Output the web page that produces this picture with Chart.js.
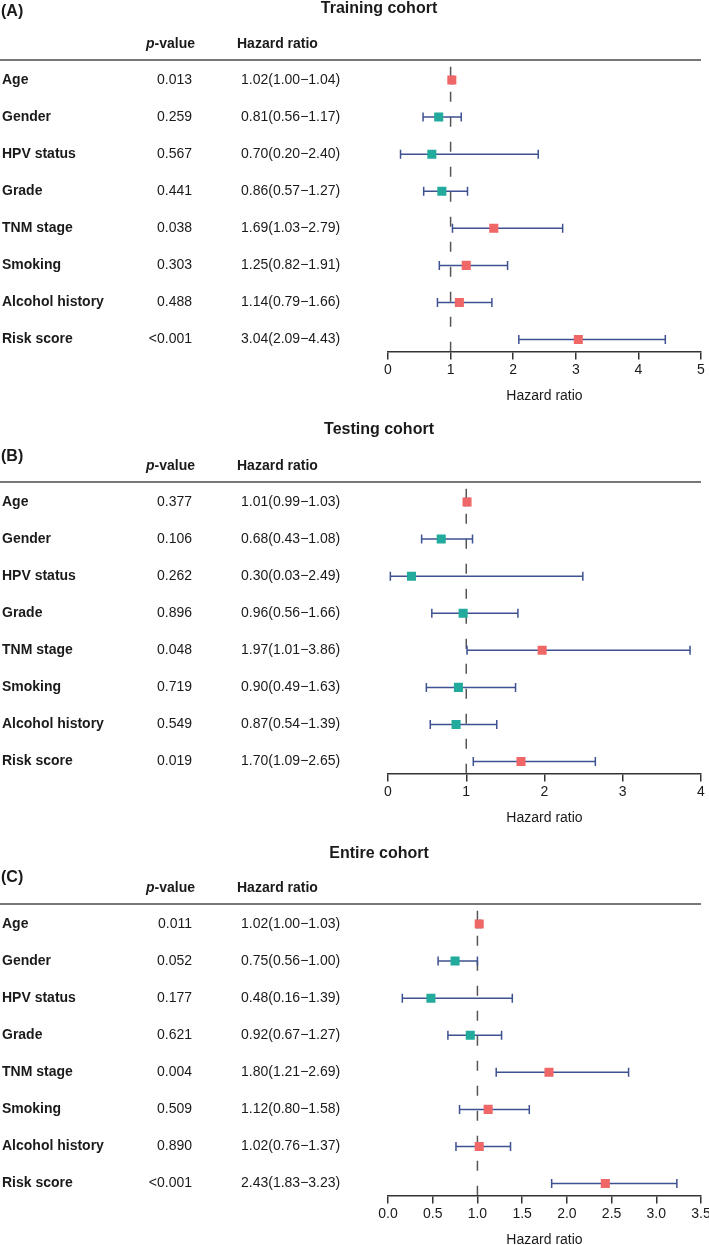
<!DOCTYPE html>
<html><head><meta charset="utf-8">
<script src="https://cdn.jsdelivr.net/npm/chart.js@4.4.1/dist/chart.umd.min.js"></script>
<style>
html,body{margin:0;padding:0;background:#fff;}
body{width:709px;height:1245px;overflow:hidden;position:relative;}
.panel{position:absolute;left:0;width:709px;height:422px;}
canvas{display:block;}
</style></head><body>
<div class="panel" style="top:0"><canvas id="cA" width="709" height="422"></canvas></div>
<div class="panel" style="top:422px"><canvas id="cB" width="709" height="422"></canvas></div>
<div class="panel" style="top:844px"><canvas id="cC" width="709" height="422"></canvas></div>
<script>
// ---------- data ----------
const categories = ['Age','Gender','HPV status','Grade','TNM stage','Smoking','Alcohol history','Risk score'];

const trainP  = ['0.013','0.259','0.567','0.441','0.038','0.303','0.488','<0.001'];
const trainHR = [1.02, 0.81, 0.70, 0.86, 1.69, 1.25, 1.14, 3.04];
const trainLo = [1.00, 0.56, 0.20, 0.57, 1.03, 0.82, 0.79, 2.09];
const trainHi = [1.04, 1.17, 2.40, 1.27, 2.79, 1.91, 1.66, 4.43];
const trainTicks = [0, 1, 2, 3, 4, 5];
const trainTickLabels = ['0','1','2','3','4','5'];

const testP  = ['0.377','0.106','0.262','0.896','0.048','0.719','0.549','0.019'];
const testHR = [1.01, 0.68, 0.30, 0.96, 1.97, 0.90, 0.87, 1.70];
const testLo = [0.99, 0.43, 0.03, 0.56, 1.01, 0.49, 0.54, 1.09];
const testHi = [1.03, 1.08, 2.49, 1.66, 3.86, 1.63, 1.39, 2.65];
const testTicks = [0, 1, 2, 3, 4];
const testTickLabels = ['0','1','2','3','4'];

const entireP  = ['0.011','0.052','0.177','0.621','0.004','0.509','0.890','<0.001'];
const entireHR = [1.02, 0.75, 0.48, 0.92, 1.80, 1.12, 1.02, 2.43];
const entireLo = [1.00, 0.56, 0.16, 0.67, 1.21, 0.80, 0.76, 1.83];
const entireHi = [1.03, 1.00, 1.39, 1.27, 2.69, 1.58, 1.37, 3.23];
const entireTicks = [0, 0.5, 1, 1.5, 2, 2.5, 3, 3.5];
const entireTickLabels = ['0.0','0.5','1.0','1.5','2.0','2.5','3.0','3.5'];

// ---------- styling ----------
const FONT = "'Liberation Sans', Arial, Helvetica, sans-serif";
Chart.defaults.font.family = FONT;
const RED = '#EF6767', TEAL = '#22AB9C', NAVY = '#3E5190', TXT = '#1a1a1a';

function fmt(v){ return v.toFixed(2); }

function makePanel(id, title, label, titleY, labelY, p, hr, lo, hi, ticks, tickLabels) {
  const colors = hr.map(v => v > 1 ? RED : TEAL);
  const datasets = [];
  datasets.push({
    data: hr.map((v, i) => ({x: v, y: i})),
    pointStyle: 'rect', pointRadius: 6.4, pointHoverRadius: 6.4,
    pointBackgroundColor: colors, pointBorderColor: colors, pointBorderWidth: 0,
    order: 0
  });
  categories.forEach((c, i) => {
    datasets.push({
      data: [{x: lo[i], y: i}, {x: hi[i], y: i}],
      showLine: true, borderColor: NAVY, borderWidth: 1.5,
      pointStyle: 'line', pointRotation: 90, pointRadius: 4.5, pointHoverRadius: 4.5,
      pointBorderColor: NAVY, pointBorderWidth: 1.5,
      order: 1
    });
  });
  datasets.push({
    data: [{x: 1, y: -0.36}, {x: 1, y: 7.32}],
    showLine: true, borderColor: '#555', borderWidth: 1.5, borderDash: [10, 15],
    pointRadius: 0, pointHoverRadius: 0, order: 2
  });

  const plugin = {
    id: 'tableText' + id,
    afterDraw(chart) {
      const ctx = chart.ctx, ys = chart.scales.y;
      ctx.save();
      ctx.fillStyle = TXT;
      ctx.font = 'bold 16px ' + FONT;
      ctx.textAlign = 'center'; ctx.textBaseline = 'alphabetic';
      ctx.fillText(title, 379, titleY);
      ctx.textAlign = 'left';
      ctx.fillText(label, 1, labelY);
      ctx.font = 'bold italic 14px ' + FONT;
      ctx.fillText('p', 146, 48);
      const pw = ctx.measureText('p').width;
      ctx.font = 'bold 14px ' + FONT;
      ctx.fillText('-value', 146 + pw, 48);
      ctx.fillText('Hazard ratio', 237, 48);
      ctx.strokeStyle = '#4a4a4a'; ctx.lineWidth = 1.5;
      ctx.beginPath(); ctx.moveTo(0, ys.top); ctx.lineTo(chart.chartArea.right, ys.top); ctx.stroke();
      ctx.textBaseline = 'middle';
      categories.forEach((c, i) => {
        const y = ys.getPixelForValue(i);
        ctx.font = 'bold 14px ' + FONT; ctx.textAlign = 'left'; ctx.fillText(c, 2, y);
        ctx.font = '14px ' + FONT; ctx.textAlign = 'right'; ctx.fillText(p[i], 192, y);
        ctx.textAlign = 'left';
        ctx.fillText(fmt(hr[i]) + '(' + fmt(lo[i]) + '\u2212' + fmt(hi[i]) + ')', 241, y);
      });
      ctx.restore();
    }
  };

  new Chart(document.getElementById(id), {
    type: 'scatter',
    data: { datasets },
    plugins: [plugin],
    options: {
      responsive: false, animation: false, events: [],
      layout: { padding: { left: 388, right: 8, top: 60, bottom: 17 } },
      plugins: { legend: { display: false }, tooltip: { enabled: false } },
      scales: {
        x: {
          type: 'linear', position: 'bottom',
          min: ticks[0], max: ticks[ticks.length - 1],
          afterBuildTicks: s => { s.ticks = ticks.map(v => ({value: v})); },
          afterFit: s => { s.paddingLeft = 0; s.paddingRight = 0; },
          ticks: { callback: (v, idx) => tickLabels[idx], font: { size: 14 }, color: TXT,
                   padding: 2, maxRotation: 0, autoSkip: false },
          grid: { drawOnChartArea: false, drawTicks: true, tickLength: 8, color: '#333', lineWidth: 1.5 },
          border: { display: true, color: '#333', width: 1.5 },
          title: { display: true, text: 'Hazard ratio', font: { size: 14 }, color: TXT,
                   padding: { top: 8, bottom: 0 } }
        },
        y: { type: 'linear', reverse: true, min: -0.54, max: 7.32, display: false }
      }
    }
  });
}

makePanel('cA', 'Training cohort', '(A)', 12.5, 16, trainP, trainHR, trainLo, trainHi, trainTicks, trainTickLabels);
makePanel('cB', 'Testing cohort', '(B)', 11.5, 39, testP, testHR, testLo, testHi, testTicks, testTickLabels);
makePanel('cC', 'Entire cohort', '(C)', 14, 37.5, entireP, entireHR, entireLo, entireHi, entireTicks, entireTickLabels);
</script>
</body></html>
